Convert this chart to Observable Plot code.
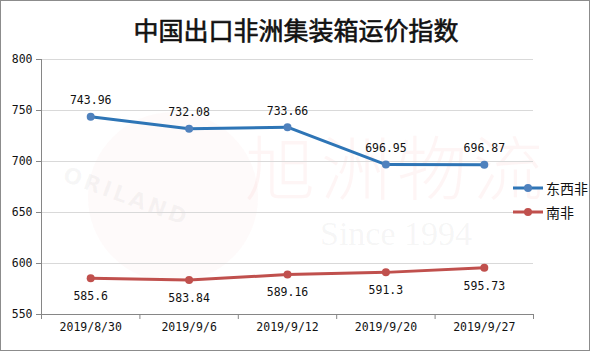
<!DOCTYPE html>
<html><head><meta charset="utf-8">
<script src="https://cdn.jsdelivr.net/npm/d3@7"></script>
<script src="https://cdn.jsdelivr.net/npm/@observablehq/plot@0.6"></script>
<style>
body{margin:0;background:#fff}
#wrap{position:relative;width:590px;height:351px;overflow:hidden;background:#fff}
#border{position:absolute;left:0;top:0;width:590px;height:351px;box-sizing:border-box;border:1px solid #8c8c8c;pointer-events:none}
#title{position:absolute;left:0;top:12px;width:592px;text-align:center;font:25px "Noto Sans CJK SC";-webkit-text-stroke:0.6px #111;color:#111;line-height:34px}
#chart{position:absolute;left:0;top:44px}
.wm{position:absolute;white-space:nowrap}
.wc{position:absolute;font:300 70px 'Noto Sans CJK SC';line-height:74px;color:rgba(230,80,80,0.06)}
#legend{position:absolute;left:513px;top:176px;font:14px "Noto Sans CJK SC";color:#111}
.li{display:flex;align-items:center;height:24px}
.li svg{margin-right:3px}
</style></head>
<body>
<div id="wrap">
  <div class="wm" style="left:88px;top:112px;width:170px;height:170px;border-radius:50%;background:rgba(230,90,80,0.03)"></div>
  <div class="wm" style="left:64px;top:162px;font:bold 22px 'DejaVu Sans';line-height:24px;letter-spacing:3px;color:rgba(120,120,120,0.06);transform:rotate(20deg);transform-origin:left center">ORILAND</div>
  <div id="wmchars"></div>
  <div class="wm" style="left:320px;top:216px;font:34px 'Liberation Serif';line-height:36px;color:rgba(120,120,120,0.07)">Since 1994</div>
  <div id="title"></div>
  <div id="chart"></div>
  <div id="legend"></div>
  <div id="border"></div>
</div>
<script>
const titleText = "中国出口非洲集装箱运价指数";
const watermarkChars = ["旭","洲","物","流"];
const dates = ["2019/8/30","2019/9/6","2019/9/12","2019/9/20","2019/9/27"];
const eastWest = [743.96,732.08,733.66,696.95,696.87];
const south = [585.6,583.84,589.16,591.3,595.73];
const seriesNames = ["东西非","南非"];
const lineColors = ["#2e75b6","#c0504d"];
const markerColors = ["#4f81bd","#c0504d"];
const yTicks = [550,600,650,700,750,800];

document.getElementById("title").textContent = titleText;
const wmc = document.getElementById("wmchars");
watermarkChars.forEach((c,k)=>{
  const s = document.createElement("div");
  s.className = "wc";
  s.style.left = (245 + k*76) + "px";
  s.style.top = "128px";
  s.textContent = c;
  wmc.appendChild(s);
});

const eastRows = dates.map((d,i)=>({i:i+0.5,date:d,s:seriesNames[0],v:eastWest[i]}));
const southRows = dates.map((d,i)=>({i:i+0.5,date:d,s:seriesNames[1],v:south[i]}));
const rows = eastRows.concat(southRows);
const boundaries = d3.range(dates.length+1);
const centers = dates.map((d,i)=>i+0.5);
const axisColor = "#868686";
const tickFont = "DejaVu Sans Mono";

const chart = Plot.plot({
  width:590, height:307,
  marginTop:15, marginBottom:37, marginLeft:41, marginRight:57,
  style:{background:"transparent", fontFamily:tickFont, fontSize:"11.5px", color:"#111"},
  x:{domain:[0,dates.length], axis:null},
  y:{domain:[550,800], axis:null},
  color:{domain:seriesNames, range:lineColors},
  marks:[
    Plot.ruleY(yTicks.slice(1),{stroke:"#d9d9d9", strokeWidth:1}),
    Plot.ruleY([550],{stroke:axisColor}),
    Plot.ruleX([0],{stroke:axisColor}),
    Plot.axisY({ticks:yTicks, tickSize:5, tickPadding:4, stroke:axisColor, tickFormat:d=>String(d), fontFamily:tickFont, fontSize:11.5, label:null}),
    Plot.axisX({ticks:boundaries, tickSize:5, tickFormat:()=>"", stroke:axisColor, label:null}),
    Plot.axisX({ticks:centers, tickSize:0, tickPadding:8, tickFormat:d=>dates[Math.round(d-0.5)], fontFamily:tickFont, fontSize:11.5, label:null}),
    Plot.line(rows,{x:"i", y:"v", stroke:"s", strokeWidth:3}),
    Plot.dot(eastRows,{x:"i", y:"v", fill:markerColors[0], r:4}),
    Plot.dot(southRows,{x:"i", y:"v", fill:markerColors[1], r:4}),
    Plot.text(eastRows,{x:"i", y:"v", text:d=>String(d.v), dy:-16, fill:"#111", fontFamily:tickFont, fontSize:11.5}),
    Plot.text(southRows,{x:"i", y:"v", text:d=>String(d.v), dy:18, fill:"#111", fontFamily:tickFont, fontSize:11.5})
  ]
});
document.getElementById("chart").appendChild(chart);

const legend = document.getElementById("legend");
seriesNames.forEach((n,k)=>{
  const item = document.createElement("div");
  item.className = "li";
  item.innerHTML = `<svg width="30" height="10"><line x1="0" y1="5" x2="30" y2="5" stroke="${lineColors[k]}" stroke-width="3"/><circle cx="15" cy="5" r="4" fill="${markerColors[k]}"/></svg><span>${n}</span>`;
  legend.appendChild(item);
});
</script>
</body></html>
